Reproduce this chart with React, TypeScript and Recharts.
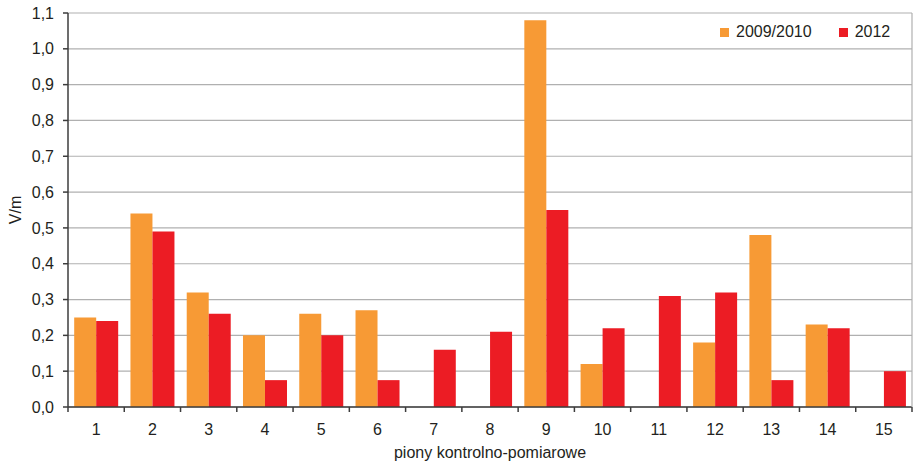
import React from 'react'
import { BarChart, Bar, XAxis, YAxis, CartesianGrid } from 'recharts'

const categories = ['1', '2', '3', '4', '5', '6', '7', '8', '9', '10', '11', '12', '13', '14', '15']
const values2009 = [0.25, 0.54, 0.32, 0.2, 0.26, 0.27, null, null, 1.08, 0.12, null, 0.18, 0.48, 0.23, null]
const values2012 = [0.24, 0.49, 0.26, 0.075, 0.2, 0.075, 0.16, 0.21, 0.55, 0.22, 0.31, 0.32, 0.075, 0.22, 0.1]
const yTicks = [0, 0.1, 0.2, 0.3, 0.4, 0.5, 0.6, 0.7, 0.8, 0.9, 1.0, 1.1]
const seriesNames = ['2009/2010', '2012']

const ORANGE = '#F79A35'
const RED = '#EC1C24'
const TEXT = '#231F20'
const AXIS = '#3C3C3C'
const GRID = '#B0B0B0'
const FONT = "'Liberation Sans', Arial, sans-serif"

const data = categories.map((c, i) => ({ name: c, a: values2009[i], b: values2012[i] }))

function CategoryTick(props: any) {
  const { x, y, payload, index, visibleTicksCount } = props
  const half = payload.offset ?? 28
  return (
    <g>
      <line x1={x - half} x2={x - half} y1={y} y2={y + 5} stroke={AXIS} strokeWidth={1.5} />
      {index === visibleTicksCount - 1 && (
        <line x1={x + half} x2={x + half} y1={y} y2={y + 5} stroke={AXIS} strokeWidth={1.5} />
      )}
      <text x={x} y={y + 28} textAnchor="middle" fill={TEXT} fontSize={16} fontFamily={FONT}>{payload.value}</text>
    </g>
  )
}

// legend sits over the plot, so keep it out of recharts' layout
function LegendBox() {
  const colors = [ORANGE, RED]
  return (
    <div style={{ position: 'absolute', left: 720, top: 22, display: 'flex', alignItems: 'center', fontFamily: FONT, fontSize: 16, color: TEXT, lineHeight: '20px' }}>
      {seriesNames.map((n, i) => (
        <div key={n} style={{ display: 'flex', alignItems: 'center', marginRight: i === 0 ? 27 : 0 }}>
          <span style={{ width: 9, height: 9, background: colors[i], display: 'inline-block', marginRight: 7 }} />
          <span>{n}</span>
        </div>
      ))}
    </div>
  )
}

export default function App() {
  return (
    <div style={{ position: 'absolute', left: 0, top: 0, width: 918, height: 463, background: '#fff' }}>
      <BarChart width={918} height={463} data={data} margin={{ top: 13, right: 0, left: 0, bottom: 0 }}
        barCategoryGap="11%" barGap={0}>
        <CartesianGrid horizontal vertical={false} stroke={GRID} strokeWidth={1.2} />
        <XAxis dataKey="name" interval={0} height={56} tickSize={0} tickMargin={0} tickLine={false}
          axisLine={{ stroke: AXIS, strokeWidth: 1.5 }} tick={<CategoryTick />}
          label={{ value: 'piony kontrolno-pomiarowe', position: 'insideBottom', offset: 5, fill: TEXT, fontSize: 16, fontFamily: FONT }} />
        <YAxis width={68} domain={[0, 1.1]} ticks={yTicks} interval={0} tickSize={5} tickMargin={9}
          axisLine={{ stroke: AXIS, strokeWidth: 1.5 }} tickLine={{ stroke: AXIS, strokeWidth: 1.5 }}
          tick={{ fill: TEXT, fontSize: 16, fontFamily: FONT }}
          tickFormatter={(v: number) => v.toFixed(1).replace('.', ',')}
          label={{ value: 'V/m', angle: -90, position: 'insideLeft', offset: 15, textAnchor: 'middle', fill: TEXT, fontSize: 16, fontFamily: FONT }} />
        <YAxis yAxisId="right" orientation="right" width={6} domain={[0, 1.1]} tick={false} tickLine={false}
          axisLine={{ stroke: GRID, strokeWidth: 1.2 }} />
        <Bar dataKey="a" name={seriesNames[0]} fill={ORANGE} isAnimationActive={false} />
        <Bar dataKey="b" name={seriesNames[1]} fill={RED} isAnimationActive={false} />
      </BarChart>
      <LegendBox />
    </div>
  )
}
